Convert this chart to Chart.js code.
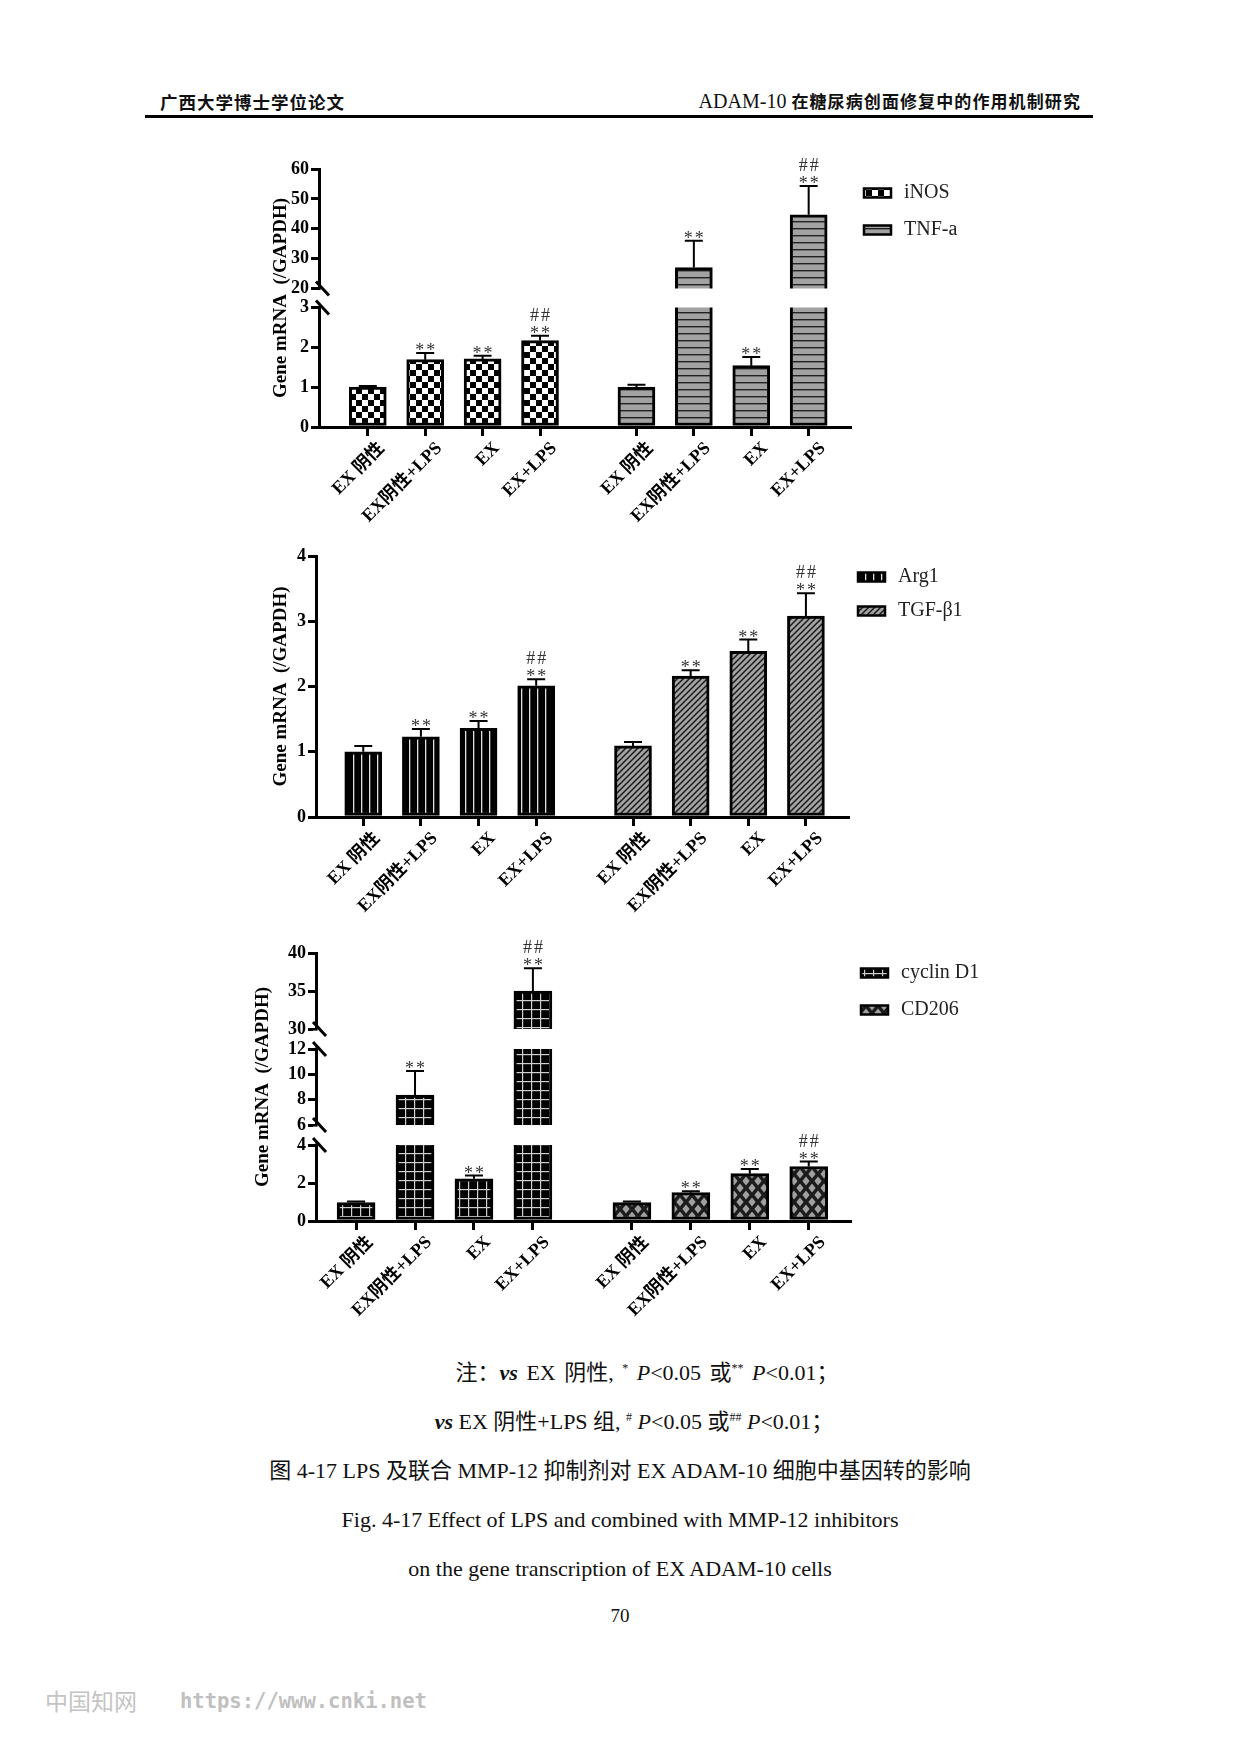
<!DOCTYPE html>
<html>
<head>
<meta charset="utf-8">
<script src="https://cdn.jsdelivr.net/npm/chart.js@4.4.1/dist/chart.umd.min.js"></script>
<style>
html,body{margin:0;padding:0;background:#fff;}
body{width:1240px;height:1754px;position:relative;overflow:hidden;font-family:"Liberation Serif","Noto Sans CJK SC",serif;color:#111;}
.abs{position:absolute;white-space:nowrap;}
canvas{position:absolute;}
.cap{position:absolute;left:0;width:1240px;text-align:center;font-size:22px;line-height:26px;white-space:nowrap;}
.cap sup{font-size:12px;vertical-align:8px;line-height:0;}
</style>
</head>
<body>
<div class="abs" style="left:160px;top:91px;font:700 17.5px 'Noto Sans CJK SC';letter-spacing:1px;line-height:22px;">广西大学博士学位论文</div>
<div class="abs" style="right:159px;top:90px;font:700 17px 'Noto Sans CJK SC';letter-spacing:1.1px;line-height:22px;"><span style="font:400 20px 'Liberation Serif';letter-spacing:0">ADAM-10 </span>在糖尿病创面修复中的作用机制研究</div>
<div class="abs" style="left:145px;top:115px;width:948px;height:3px;background:#000;"></div>

<canvas id="c1" width="790" height="402" style="left:230px;top:130px;"></canvas>
<canvas id="c2" width="790" height="402" style="left:230px;top:520px;"></canvas>
<canvas id="c3" width="790" height="411" style="left:230px;top:915px;"></canvas>

<div class="cap" style="top:1360px;left:27px;word-spacing:3px;">注：<i><b>vs</b></i> EX 阴性, <sup>*</sup> <i>P</i>&lt;0.05 或<sup>**</sup> <i>P</i>&lt;0.01；</div>
<div class="cap" style="top:1409px;left:14px;"><i><b>vs</b></i> EX 阴性+LPS 组, <sup>#</sup> <i>P</i>&lt;0.05 或<sup>##</sup> <i>P</i>&lt;0.01；</div>
<div class="cap" style="top:1458px;">图 4-17 LPS 及联合 MMP-12 抑制剂对 EX ADAM-10 细胞中基因转的影响</div>
<div class="cap" style="top:1507px;">Fig. 4-17 Effect of LPS and combined with MMP-12 inhibitors</div>
<div class="cap" style="top:1556px;">on the gene transcription of EX ADAM-10 cells</div>
<div class="cap" style="top:1603px;font-size:19px;">70</div>

<div class="abs" style="left:45px;top:1686px;font:400 23px 'Noto Sans CJK SC';color:#c4c4c4;line-height:28px;">中国知网</div>
<div class="abs" style="left:180px;top:1688px;font:700 20.5px 'DejaVu Sans Mono';color:#c0c0c0;line-height:26px;">https://www.cnki.net</div>

<script>
// ---------- DATA ----------
const categories = ['EX 阴性', 'EX阴性+LPS', 'EX', 'EX+LPS'];

// Panel 1 : iNOS / TNF-a
const iNOS      = [1.00, 1.69, 1.71, 2.17];
const iNOS_err  = [0.03, 0.17, 0.08, 0.12];
const iNOS_sig  = [[], ['**'], ['**'], ['**', '##']];
const TNFa      = [1.00, 27.0, 1.54, 44.7];
const TNFa_err  = [0.06, 9.0, 0.22, 9.6];
const TNFa_sig  = [[], ['**'], ['**'], ['**', '##']];
const p1_ticks  = [0, 1, 2, 3, 20, 30, 40, 50, 60];
const p1_segments = [[0, 3], [20, 60]];

// Panel 2 : Arg1 / TGF-β1
const Arg1      = [1.00, 1.23, 1.36, 2.01];
const Arg1_err  = [0.09, 0.12, 0.11, 0.10];
const Arg1_sig  = [[], ['**'], ['**'], ['**', '##']];
const TGFb1     = [1.09, 2.16, 2.54, 3.08];
const TGFb1_err = [0.06, 0.09, 0.18, 0.35];
const TGFb1_sig = [[], ['**'], ['**'], ['**', '##']];
const p2_ticks  = [0, 1, 2, 3, 4];

// Panel 3 : cyclin D1 / CD206
const cyclinD1     = [0.97, 8.37, 2.22, 35.0];
const cyclinD1_err = [0.05, 1.89, 0.17, 3.0];
const cyclinD1_sig = [[], ['**'], ['**'], ['**', '##']];
const CD206        = [0.97, 1.49, 2.49, 2.87];
const CD206_err    = [0.05, 0.07, 0.25, 0.26];
const CD206_sig    = [[], ['**'], ['**'], ['**', '##']];
const p3_ticks  = [0, 2, 4, 6, 8, 10, 12, 30, 35, 40];
const p3_segments = [[0, 4], [6, 12], [30, 40]];

// ---------- LAYOUT (category slot positions on the x scale) ----------
const slots = [0, 1, 2, 3, 4.68, 5.68, 6.68, 7.68];

// ---------- PATTERNS ----------
function makePattern(w, h, draw) {
  const c = document.createElement('canvas');
  c.width = w; c.height = h;
  const g = c.getContext('2d');
  draw(g, w, h);
  return g.createPattern(c, 'repeat');
}
const patterns = {
  checker: makePattern(12, 12, (g) => {
    g.fillStyle = '#fff'; g.fillRect(0, 0, 12, 12);
    g.fillStyle = '#000'; g.fillRect(0, 0, 6, 6); g.fillRect(6, 6, 6, 6);
  }),
  hstripe: makePattern(8, 7, (g) => {
    g.fillStyle = '#a2a2a2'; g.fillRect(0, 0, 8, 7);
    g.fillStyle = '#222'; g.fillRect(0, 0, 8, 1.4);
  }),
  vstripe: makePattern(8, 8, (g) => {
    g.fillStyle = '#000'; g.fillRect(0, 0, 8, 8);
    g.fillStyle = '#e0e0e0'; g.fillRect(3, 0, 1.3, 8);
  }),
  diag: makePattern(6, 6, (g) => {
    g.fillStyle = '#a4a4a4'; g.fillRect(0, 0, 6, 6);
    g.strokeStyle = '#1a1a1a'; g.lineWidth = 1.5;
    g.beginPath();
    g.moveTo(-1, 7); g.lineTo(7, -1);
    g.moveTo(-4, 4); g.lineTo(4, -4);
    g.moveTo(2, 10); g.lineTo(10, 2);
    g.stroke();
  }),
  grid: makePattern(9, 9, (g) => {
    g.fillStyle = '#000'; g.fillRect(0, 0, 9, 9);
    g.fillStyle = '#cfcfcf'; g.fillRect(4, 0, 1.2, 9); g.fillRect(0, 4, 9, 1.2);
  }),
  diamond: makePattern(12, 14, (g) => {
    g.fillStyle = '#1c1c1c'; g.fillRect(0, 0, 12, 14);
    g.fillStyle = '#a0a0a0';
    const d = (cx, cy) => { g.beginPath(); g.moveTo(cx, cy - 4.5); g.lineTo(cx + 3.6, cy); g.lineTo(cx, cy + 4.5); g.lineTo(cx - 3.6, cy); g.closePath(); g.fill(); };
    d(6, 7); d(0, 0); d(12, 0); d(0, 14); d(12, 14);
  })
};

// ---------- BROKEN AXIS SCALE ----------
class BrokenScale extends Chart.LinearScale {
  static id = 'broken';
  determineDataLimits() {
    const s = this.options.segments;
    this.min = s[0][0];
    this.max = s[s.length - 1][1];
  }
  buildTicks() {
    return this.options.tickValues.map(v => ({ value: v }));
  }
  segGeom() {
    const s = this.options.segments, gap = this.options.gap, n = s.length;
    const h = (this.bottom - this.top - gap * (n - 1)) / n;
    return { s, gap, n, h };
  }
  getPixelForValue(value) {
    const { s, gap, n, h } = this.segGeom();
    let i = 0;
    while (i < n - 1 && value > s[i][1]) i++;
    const a = s[i][0], b = s[i][1];
    const v = Math.max(value, a);
    return this.bottom - i * (h + gap) - (v - a) / (b - a) * h;
  }
  getValueForPixel(pixel) {
    const { s, gap, n, h } = this.segGeom();
    for (let i = 0; i < n; i++) {
      const base = this.bottom - i * (h + gap);
      if (pixel >= base - h || i === n - 1) {
        return s[i][0] + (base - pixel) / h * (s[i][1] - s[i][0]);
      }
    }
    return this.min;
  }
}
Chart.register(BrokenScale);

// ---------- PANELS ----------
const SERIF = '"Liberation Serif", "Noto Sans CJK SC", serif';
const panels = [
  {
    id: 'c1',
    series: [
      { name: 'iNOS', values: iNOS, err: iNOS_err, sig: iNOS_sig, pattern: 'checker' },
      { name: 'TNF-a', values: TNFa, err: TNFa_err, sig: TNFa_sig, pattern: 'hstripe' }
    ],
    y: { type: 'broken', segments: p1_segments, gap: 19, tickValues: p1_ticks },
    yWidth: 89, titlePad: 40, padTop: 39, padRight: 790 - 620, xHeight: 105,
    xMin: -0.85, xMax: 8.4, barW: 37,
    legend: { dx: 14, dy: 24, step: 37 }
  },
  {
    id: 'c2',
    series: [
      { name: 'Arg1', values: Arg1, err: Arg1_err, sig: Arg1_sig, pattern: 'vstripe' },
      { name: 'TGF-β1', values: TGFb1, err: TGFb1_err, sig: TGFb1_sig, pattern: 'diag' }
    ],
    y: { type: 'linear', min: 0, max: 4, afterBuildTicks: (s) => { s.ticks = p2_ticks.map(v => ({ value: v })); } },
    yWidth: 86, titlePad: 40, padTop: 36, padRight: 790 - 618, xHeight: 105,
    xMin: -0.82, xMax: 8.41, barW: 37,
    legend: { dx: 10, dy: 21, step: 34 }
  },
  {
    id: 'c3',
    series: [
      { name: 'cyclin D1', values: cyclinD1, err: cyclinD1_err, sig: cyclinD1_sig, pattern: 'grid' },
      { name: 'CD206', values: CD206, err: CD206_err, sig: CD206_sig, pattern: 'diamond' }
    ],
    y: { type: 'broken', segments: p3_segments, gap: 20, tickValues: p3_ticks },
    yWidth: 86, titlePad: 22, padTop: 38, padRight: 790 - 620, xHeight: 105,
    xMin: -0.68, xMax: 8.38, barW: 38,
    legend: { dx: 11, dy: 20, step: 37 }
  }
];

function extrasPlugin(panel) {
  return {
    id: 'extras',
    afterDatasetsDraw(chart) {
      const ctx = chart.ctx, area = chart.chartArea, ys = chart.scales.y;
      ctx.save();
      // axis breaks
      if (ys.segGeom) {
        const { n, h, gap } = ys.segGeom();
        for (let i = 0; i < n - 1; i++) {
          const upper = ys.bottom - i * (h + gap) - h; // top edge of segment i
          const lower = upper - gap;                    // bottom edge of segment i+1
          ctx.fillStyle = '#fff';
          ctx.fillRect(area.left + 1.6, lower, area.right - area.left, gap);
          ctx.fillRect(area.left - 3, lower + 1.6, 6, gap - 3.2);
          ctx.strokeStyle = '#000';
          ctx.lineWidth = 3;
          ctx.lineCap = 'butt';
          for (const y of [lower, upper]) {
            ctx.beginPath();
            ctx.moveTo(area.left - 3, y - 7);
            ctx.lineTo(area.left + 10, y + 7);
            ctx.stroke();
          }
        }
      }
      // error bars + significance marks
      panel.series.forEach((ser, di) => {
        const meta = chart.getDatasetMeta(di);
        meta.data.forEach((el, j) => {
          const v = ser.values[j], e = ser.err[j];
          const x = el.x, y0 = el.y, y1 = ys.getPixelForValue(v + e);
          ctx.strokeStyle = '#000';
          ctx.lineWidth = 2;
          ctx.beginPath();
          ctx.moveTo(x, y0); ctx.lineTo(x, y1);
          ctx.moveTo(x - 9, y1); ctx.lineTo(x + 9, y1);
          ctx.stroke();
          const marks = ser.sig[j];
          ctx.fillStyle = '#333';
          ctx.font = '18px ' + SERIF;
          ctx.letterSpacing = '2px';
          ctx.textAlign = 'center';
          ctx.textBaseline = 'alphabetic';
          marks.forEach((m, k) => {
            const yy = k === 0 ? y1 + 3 : y1 - 15;
            ctx.fillText(m, x + 1, yy);
          });
          ctx.letterSpacing = '0px';
        });
      });
      // legend
      const lg = panel.legend;
      panel.series.forEach((ser, di) => {
        const cy = area.top + lg.dy + di * lg.step;
        const sx = area.right + lg.dx;
        ctx.fillStyle = patterns[ser.pattern];
        ctx.fillRect(sx, cy - 4.5, 27, 9);
        ctx.strokeStyle = '#000';
        ctx.lineWidth = 2.5;
        ctx.strokeRect(sx, cy - 4.5, 27, 9);
        ctx.fillStyle = '#222';
        ctx.font = '20px ' + SERIF;
        ctx.textAlign = 'left';
        ctx.textBaseline = 'middle';
        ctx.fillText(ser.name, sx + 40, cy);
      });
      ctx.restore();
    }
  };
}

const axisFont = { family: SERIF, size: 18, weight: 'bold' };

panels.forEach(panel => {
  const yOpts = Object.assign({
    position: 'left',
    title: { display: true, text: 'Gene mRNA  (/GAPDH)', color: '#000',
             font: { family: SERIF, size: 19, weight: 'bold' }, padding: { top: panel.titlePad, bottom: 0 } },
    ticks: { color: '#000', font: axisFont, autoSkip: false, padding: 2, callback: (v) => String(v) },
    grid: { display: true, drawOnChartArea: false, drawTicks: true, tickLength: 8, lineWidth: 3, color: '#000' },
    border: { display: true, width: 3, color: '#000' },
    afterFit: (s) => { s.width = panel.yWidth; }
  }, panel.y);

  new Chart(document.getElementById(panel.id), {
    type: 'bar',
    data: {
      datasets: panel.series.map((ser, di) => ({
        label: ser.name,
        data: ser.values.map((v, j) => ({ x: slots[di * 4 + j], y: v })),
        backgroundColor: patterns[ser.pattern],
        borderColor: '#000',
        borderWidth: 3,
        borderSkipped: false,
        grouped: false,
        maxBarThickness: panel.barW,
        barPercentage: 1,
        categoryPercentage: 1
      }))
    },
    options: {
      responsive: false,
      animation: false,
      events: [],
      layout: { padding: { left: 0, right: panel.padRight, top: panel.padTop, bottom: 0 } },
      plugins: { legend: { display: false }, tooltip: { enabled: false } },
      scales: {
        x: {
          type: 'linear',
          offset: false,
          min: panel.xMin,
          max: panel.xMax,
          afterBuildTicks: (s) => { s.ticks = slots.map(v => ({ value: v })); },
          ticks: {
            autoSkip: false, minRotation: 45, maxRotation: 45, color: '#000',
            font: { family: SERIF, size: 18, weight: 'bold' }, padding: 2, labelOffset: 14,
            callback: (v, i) => categories[i % categories.length]
          },
          grid: { display: true, offset: false, drawOnChartArea: false, drawTicks: true, tickLength: 9, lineWidth: 3, color: '#000' },
          border: { display: true, width: 3, color: '#000' },
          afterFit: (s) => { s.height = panel.xHeight; }
        },
        y: yOpts
      }
    },
    plugins: [extrasPlugin(panel)]
  });
});
</script>
</body>
</html>
